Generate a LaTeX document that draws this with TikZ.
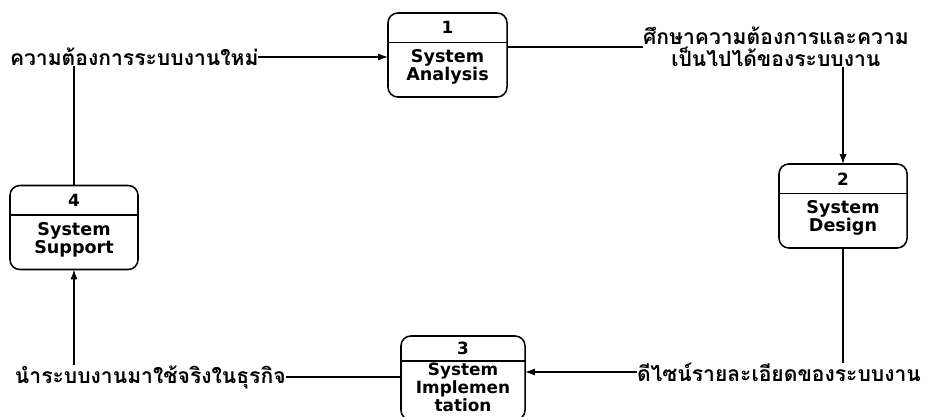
\documentclass[tikz,border=0pt]{standalone}
\usepackage{fontspec}
\setmainfont{DejaVu Sans}
\newfontfamily\thaifont[Script=Thai]{Loma}
\usetikzlibrary{arrows.meta, positioning}

\begin{document}
\begin{tikzpicture}[
    x=0.025cm, y=-0.025cm,
    every node/.style={inner sep=0pt, outer sep=0pt},
    procbox/.style={
        rectangle,
        rounded corners=7pt,
        minimum height=2.1cm,
        line width=1.1pt,
        draw=black
    },
    procid/.style={
        minimum height=0.74cm,
        font=\fontsize{12}{13}\selectfont\bfseries
    },
    procname/.style={
        align=center,
        font=\fontsize{12.5}{13}\selectfont\bfseries
    },
    flowlabel/.style={
        align=center,
        font=\thaifont\bfseries\fontsize{15}{15.5}\selectfont
    },
    flow/.style={line width=0.8pt},
    arrow/.style={line width=0.8pt, -{Latex[length=7pt,width=5pt]}}
]

\clip (0,0) rectangle (938,416);

% processes
\node (p1) [procbox, minimum width=2.975cm] at (447.5,55) {};
\node (p1id) [procid, below=0pt of p1.north] {1};
\node (p1name) [procname, below=5pt of p1id] {System\\Analysis};
\draw [line width=1.1pt] (p1id.south -| p1.west) -- (p1id.south -| p1.east);

\node (p2) [procbox, minimum width=3.2cm] at (843,206) {};
\node (p2id) [procid, below=0pt of p2.north] {2};
\node (p2name) [procname, below=5pt of p2id] {System\\Design};
\draw [line width=1.1pt] (p2id.south -| p2.west) -- (p2id.south -| p2.east);

\node (p3) [procbox, minimum width=3.1cm] at (463,378) {};
\node (p3id) [procid, minimum height=0.62cm, below=0pt of p3.north] {3};
\node (p3name) [procname, font=\fontsize{12}{11}\selectfont\bfseries, below=1.5pt of p3id] {System\\Implemen\\tation};
\draw [line width=1.1pt] (p3id.south -| p3.west) -- (p3id.south -| p3.east);

\node (p4) [procbox, minimum width=3.2cm] at (74,227.5) {};
\node (p4id) [procid, below=0pt of p4.north] {4};
\node (p4name) [procname, below=5pt of p4id] {System\\Support};
\draw [line width=1.1pt] (p4id.south -| p4.west) -- (p4id.south -| p4.east);

% data flows
\node (needs)   [flowlabel, anchor=west] at (10,57)  {ความต้องการระบบงานใหม่};
\node (study)   [flowlabel, anchor=west] at (643,47) {ศึกษาความต้องการและความ\\เป็นไปได้ของระบบงาน};
\node (design)  [flowlabel, anchor=west] at (637,372) {ดีไซน์รายละเอียดของระบบงาน};
\node (deploy)  [flowlabel, anchor=west] at (15,377) {นำระบบงานมาใช้จริงในธุรกิจ};

\draw [arrow] (needs.east) -- (needs.east -| p1.west);
\draw [flow] (p4.north) -- (p4.north |- needs.south);
\draw [flow] (study.west -| p1.east) -- (study.west);
\draw [arrow] (study.south -| p2.north) -- (p2.north);
\draw [flow] (p2.south) -- (p2.south |- design.north);
\draw [arrow] (design.west) -- (design.west -| p3.east);
\draw [flow] (p3.west |- deploy.east) -- (deploy.east);
\draw [arrow] (deploy.north -| p4.south) -- (p4.south);

\end{tikzpicture}
\end{document}
